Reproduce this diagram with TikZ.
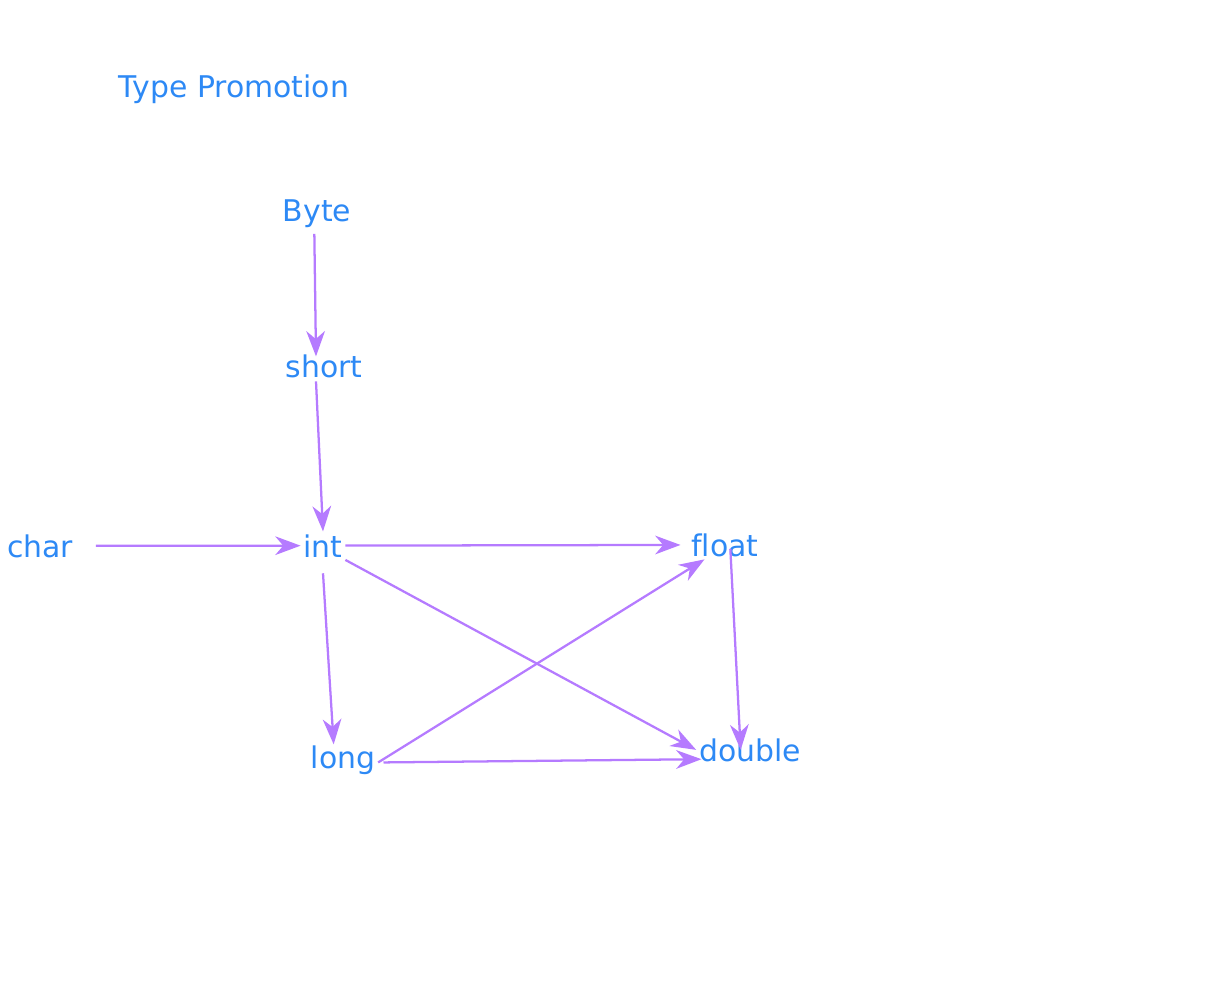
\documentclass[tikz,border=0pt]{standalone}
\usepackage{fontspec}
\setmainfont[Ligatures=NoCommon]{DejaVu Sans}
\usetikzlibrary{arrows.meta}
\definecolor{typeblue}{RGB}{45,137,245}
\definecolor{promopurple}{RGB}{181,123,255}

\begin{document}
\begin{tikzpicture}[x=0.75pt,y=-0.75pt,
	main node/.style = {text=typeblue, inner sep = 2pt, anchor = base, font=\fontsize{22.4}{26}\selectfont},
	promote/.style = {-{Stealth[length=19pt,width=14pt,inset=6pt]}, color=promopurple, line width=1.7pt}]
	\useasboundingbox (0,0) rectangle (1214,991);
	
	\node[main node] (9) at (234,98) {Type Promotion};
	\node[main node] (1) at (317,222) {Byte};
	\node[main node] (2) at (324,378) {short};
	\node[main node] (3) at (40,557) {char};
	\node[main node] (4) at (323,557) {int};
	\node[main node] (5) at (725,556) {float};
	\node[main node] (6) at (343,768) {long};
	\node[main node] (7) at (750,761) {double};
	
	\path[promote]
	([xshift=-2pt,yshift=-2pt]1.south) edge ([xshift=-6pt,yshift=-3pt]2.north)
	([xshift=-6pt]2.south) edge (4.north)
	(3) edge[shorten <=15pt] (4)
	(4) edge[shorten >=6pt] (5)
	([yshift=-10pt]4.south) edge ([xshift=-7pt,yshift=-1.5pt]6.north)
	(4.south east) edge (7.west)
	([yshift=-2pt]6.east) edge ([xshift=12pt]5.south west)
	([xshift=4pt,yshift=-2pt]6.east) edge ([xshift=4pt,yshift=-7pt]7.west)
	([xshift=4pt,yshift=-3pt]5.center) edge ([xshift=-7pt]7.center);
\end{tikzpicture}
\end{document}
